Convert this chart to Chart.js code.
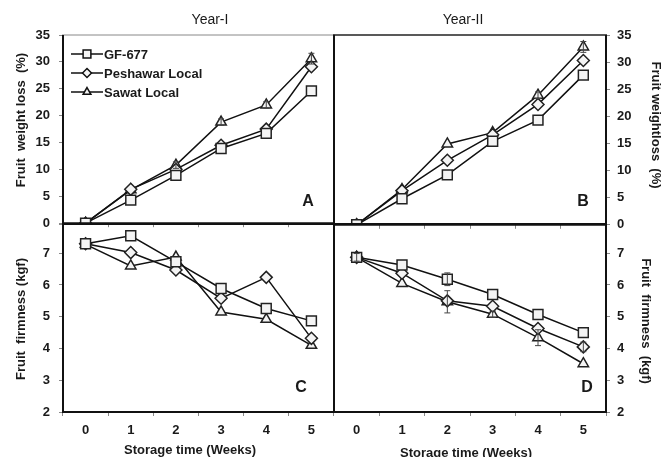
<!DOCTYPE html>
<html>
<head>
<meta charset="utf-8">
<script src="https://cdn.jsdelivr.net/npm/chart.js@4.4.1/dist/chart.umd.min.js"></script>
<style>
body { margin: 0; background: #fff; }
#wrap { position: relative; width: 664px; height: 457px; overflow: hidden; background: #fff; }
.box { position: absolute; }
</style>
</head>
<body>
<div id="wrap">
  <div class="box" style="left:0;top:0;width:340px;height:240px"><canvas id="cA"></canvas></div>
  <div class="box" style="left:328px;top:0;width:336px;height:240px"><canvas id="cB"></canvas></div>
  <div class="box" style="left:0;top:207px;width:340px;height:250px"><canvas id="cC"></canvas></div>
  <div class="box" style="left:328px;top:207px;width:336px;height:250px"><canvas id="cD"></canvas></div>
</div>
<script>
const weeks = ['0', '1', '2', '3', '4', '5'];
const seriesNames = ['GF-677', 'Peshawar Local', 'Sawat Local'];

// fruit weight loss (%)
const lossY1Gf = [0, 4.3, 8.9, 13.9, 16.7, 24.6];
const lossY1Pesh = [0, 6.3, 10.0, 14.5, 17.5, 29.1];
const lossY1Sawat = [0, 6.2, 10.8, 18.8, 22.0, 30.6];
const lossY2Gf = [0, 4.8, 9.2, 15.4, 19.3, 27.6];
const lossY2Pesh = [0, 6.3, 11.9, 16.6, 22.2, 30.3];
const lossY2Sawat = [0, 6.5, 14.9, 17.0, 23.9, 32.8];

// fruit firmness (kgf)
const firmY1Gf = [7.3, 7.55, 6.73, 5.89, 5.26, 4.87];
const firmY1Pesh = [7.3, 7.02, 6.47, 5.58, 6.24, 4.32];
const firmY1Sawat = [7.28, 6.6, 6.88, 5.15, 4.92, 4.1];
const firmY2Gf = [6.87, 6.63, 6.18, 5.7, 5.07, 4.5];
const firmY2Pesh = [6.87, 6.37, 5.5, 5.33, 4.63, 4.05];
const firmY2Sawat = [6.87, 6.05, 5.47, 5.08, 4.34, 3.52];

// error bars (only the visible ones)
const errA = [[0, 0, 0, 0, 0, 0], [0, 0, 0, 0, 0, 0], [0, 0, 0.6, 0.6, 0.6, 1.0]];
const errB = [[0, 0, 0, 0, 0, 0], [0, 0, 0, 0, 0, 0], [0, 0, 0, 0, 0.6, 1.0]];
const errC = [[0, 0, 0, 0, 0, 0], [0, 0, 0, 0, 0, 0], [0, 0, 0, 0, 0, 0]];
const errD = [[0, 0, 0.2, 0, 0, 0], [0, 0, 0, 0, 0, 0.15], [0.12, 0, 0.35, 0.1, 0.25, 0]];

const styles = ['rect', 'rectRot', 'triangle'];
const radii = [7, 6, 6];
const FONT = '"Liberation Sans", Arial, sans-serif';

const deco = {
    id: 'deco',
    afterDatasetsDraw(chart, args, o) {
        const ctx = chart.ctx;
        const ys = chart.scales.y;
        ctx.save();
        ctx.strokeStyle = '#444';
        ctx.lineWidth = 1;
        (o.err || []).forEach((row, i) => {
            const meta = chart.getDatasetMeta(i);
            row.forEach((e, j) => {
                if (!e) return;
                const v = chart.data.datasets[i].data[j];
                const x = meta.data[j].x;
                const y1 = ys.getPixelForValue(v + e), y2 = ys.getPixelForValue(v - e);
                ctx.beginPath();
                ctx.moveTo(x, y1); ctx.lineTo(x, y2);
                ctx.moveTo(x - 3, y1); ctx.lineTo(x + 3, y1);
                ctx.moveTo(x - 3, y2); ctx.lineTo(x + 3, y2);
                ctx.stroke();
            });
        });
        ctx.restore();
    },
    afterDraw(chart, args, o) {
        const ctx = chart.ctx, a = chart.chartArea;
        ctx.save();
        // frame
        const side = (w, c, x1, y1, x2, y2) => {
            ctx.lineWidth = w; ctx.strokeStyle = c;
            ctx.beginPath(); ctx.moveTo(x1, y1); ctx.lineTo(x2, y2); ctx.stroke();
        };
        const f = o.frame;
        side(f.top[0], f.top[1], a.left - 1, a.top, a.right + 1, a.top);
        side(f.bottom[0], f.bottom[1], a.left - 1, a.bottom, a.right + 1, a.bottom);
        side(f.left[0], f.left[1], a.left, a.top, a.left, a.bottom);
        side(f.right[0], f.right[1], a.right, a.top, a.right, a.bottom);

        // texts (page coords)
        ctx.fillStyle = '#1a1a1a';
        ctx.textAlign = 'center';
        ctx.textBaseline = 'middle';
        (o.texts || []).forEach(t => {
            ctx.save();
            ctx.font = t.font;
            ctx.translate(t.x - o.ox, t.y - o.oy);
            if (t.rot) ctx.rotate(t.rot);
            ctx.fillText(t.text, 0, 0);
            ctx.restore();
        });

        // legend
        if (o.legend) {
            seriesNames.forEach((name, i) => {
                const y = 54 + i * 19 - o.oy;
                ctx.strokeStyle = '#111';
                ctx.lineWidth = 1.5;
                ctx.beginPath(); ctx.moveTo(71 - o.ox, y); ctx.lineTo(103 - o.ox, y); ctx.stroke();
                ctx.fillStyle = '#f4f4f4';
                Chart.helpers.drawPoint(ctx, { pointStyle: styles[i], radius: i === 0 ? 5.5 : 4.5, borderWidth: 1.5 }, 87 - o.ox, y);
                ctx.fillStyle = '#1a1a1a';
                ctx.font = 'bold 13px ' + FONT;
                ctx.textAlign = 'left';
                ctx.fillText(name, 104 - o.ox, y + 1);
            });
        }
        ctx.restore();
    }
};
Chart.register(deco);

function panel(id, series, cfg) {
    return new Chart(document.getElementById(id), {
        type: 'line',
        data: {
            labels: weeks,
            datasets: series.map((d, i) => ({
                label: seriesNames[i],
                data: d,
                borderColor: '#111',
                borderWidth: 1.5,
                backgroundColor: '#f4f4f4',
                pointStyle: styles[i],
                pointRadius: radii[i],
                pointBorderColor: '#222',
                pointBackgroundColor: '#f4f4f4',
                pointBorderWidth: 1.5,
                tension: 0
            }))
        },
        options: {
            responsive: true,
            maintainAspectRatio: false,
            animation: false,
            layout: { padding: cfg.pad, autoPadding: false },
            plugins: {
                legend: { display: false },
                tooltip: { enabled: false },
                deco: cfg.deco
            },
            scales: {
                x: {
                    type: 'category',
                    offset: true,
                    grid: { offset: true, drawOnChartArea: false, tickLength: 4, color: '#888' },
                    border: { display: false },
                    ticks: {
                        display: cfg.xLabels,
                        padding: 7,
                        color: '#1a1a1a',
                        font: { family: FONT, size: 13, weight: 'bold' }
                    },
                    afterFit: s => { s.height = cfg.xh; }
                },
                y: {
                    position: cfg.yPos,
                    min: cfg.min,
                    max: cfg.max,
                    grid: { drawOnChartArea: false, tickLength: 4, color: '#888' },
                    border: { display: false },
                    ticks: {
                        stepSize: cfg.step,
                        padding: cfg.yPos === 'left' ? 9 : 7,
                        color: '#1a1a1a',
                        font: { family: FONT, size: 13, weight: 'bold' },
                        callback: v => (v > cfg.labelMax ? '' : v)
                    },
                    afterFit: s => { s.width = cfg.yw; }
                }
            }
        }
    });
}

const thick = [2, '#111'];
const axisFont = 'bold 13px ' + FONT;
const letterFont = 'bold 16px ' + FONT;

panel('cA', [lossY1Gf, lossY1Pesh, lossY1Sawat], {
    pad: { top: 35, right: 6, bottom: 15.2, left: 0 }, xh: 0, xLabels: false,
    yPos: 'left', yw: 63, min: 0, max: 35, step: 5, labelMax: 35,
    deco: {
        ox: 0, oy: 0, legend: true, err: errA,
        frame: { top: [1, '#888'], bottom: thick, left: thick, right: thick },
        texts: [
            { text: 'Year-I', x: 210, y: 20, font: '14px ' + FONT },
            { text: 'Fruit  weight loss  (%)', x: 21, y: 120, font: axisFont, rot: -Math.PI / 2 },
            { text: 'A', x: 308, y: 202, font: letterFont }
        ]
    }
});

panel('cB', [lossY2Gf, lossY2Pesh, lossY2Sawat], {
    pad: { top: 35, right: 0, bottom: 15.2, left: 6 }, xh: 0, xLabels: false,
    yPos: 'right', yw: 58, min: 0, max: 35, step: 5, labelMax: 35,
    deco: {
        ox: 328, oy: 0, err: errB,
        frame: { top: [1.5, '#222'], bottom: thick, left: thick, right: thick },
        texts: [
            { text: 'Year-II', x: 463, y: 20, font: '14px ' + FONT },
            { text: 'Fruit weightloss  (%)', x: 656, y: 125, font: axisFont, rot: Math.PI / 2 },
            { text: 'B', x: 583, y: 202, font: letterFont }
        ]
    }
});

panel('cC', [firmY1Gf, firmY1Pesh, firmY1Sawat], {
    pad: { top: 17, right: 6, bottom: 0, left: 0 }, xh: 45, xLabels: true,
    yPos: 'left', yw: 63, min: 2, max: 7.92, step: 1, labelMax: 7,
    deco: {
        ox: 0, oy: 207, err: errC,
        frame: { top: thick, bottom: thick, left: thick, right: thick },
        texts: [
            { text: 'Fruit  firmness (kgf)', x: 21, y: 319, font: axisFont, rot: -Math.PI / 2 },
            { text: 'Storage time (Weeks)', x: 190, y: 450, font: axisFont },
            { text: 'C', x: 301, y: 388, font: letterFont }
        ]
    }
});

panel('cD', [firmY2Gf, firmY2Pesh, firmY2Sawat], {
    pad: { top: 17, right: 0, bottom: 0, left: 6 }, xh: 45, xLabels: true,
    yPos: 'right', yw: 58, min: 2, max: 7.92, step: 1, labelMax: 7,
    deco: {
        ox: 328, oy: 207, err: errD,
        frame: { top: thick, bottom: thick, left: thick, right: thick },
        texts: [
            { text: 'Fruit  firmness  (kgf)', x: 646, y: 321, font: axisFont, rot: Math.PI / 2 },
            { text: 'Storage time (Weeks)', x: 466, y: 453, font: axisFont },
            { text: 'D', x: 587, y: 388, font: letterFont }
        ]
    }
});
</script>
</body>
</html>
